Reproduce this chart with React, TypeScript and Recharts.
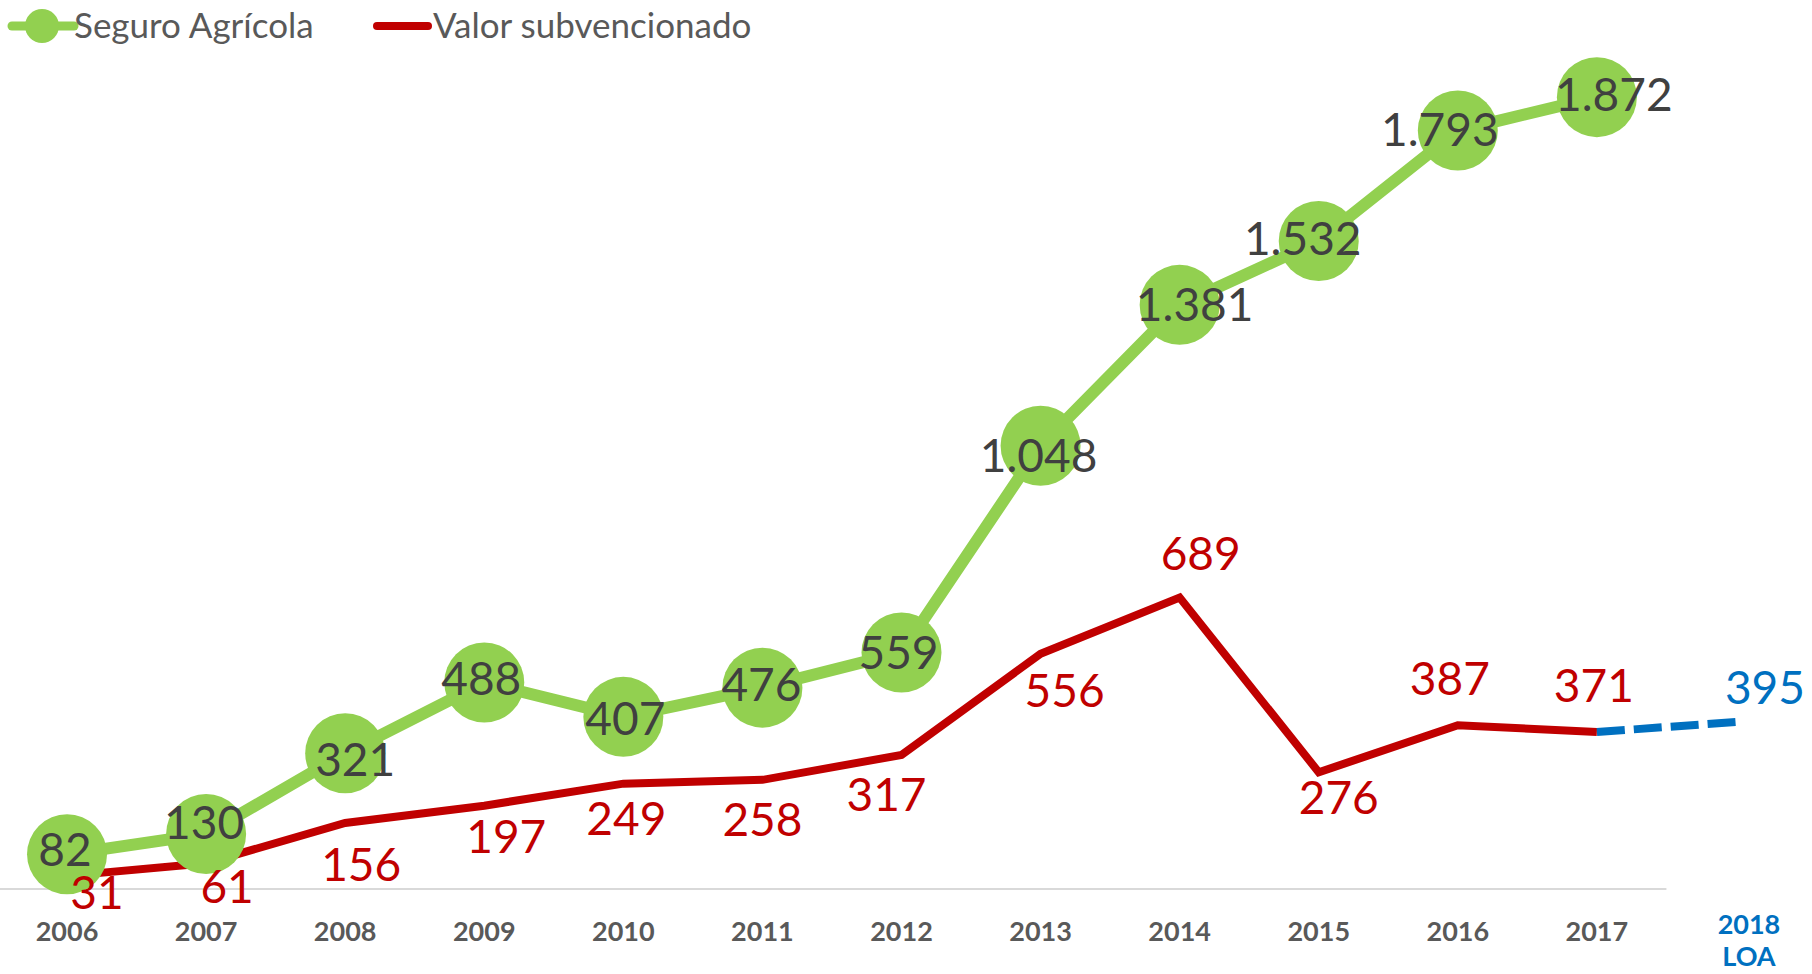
import { LineChart, Line, XAxis, YAxis, ReferenceLine } from 'recharts';

const years = ['2006', '2007', '2008', '2009', '2010', '2011', '2012', '2013', '2014', '2015', '2016', '2017', '2018'];
const seguro = [82, 130, 321, 488, 407, 476, 559, 1048, 1381, 1532, 1793, 1872, null];
const valor = [31, 61, 156, 197, 249, 258, 317, 556, 689, 276, 387, 371, null];
const loa = [null, null, null, null, null, null, null, null, null, null, null, 371, 395];

// label nudges (px)
const seguroOff = [[-2, -2], [-2, -9], [10, 9], [-3, -1], [2, 5], [-1, 0], [-3, 3], [-2, 13], [15, 3], [-16, 1], [-18, 2], [17, 0]];
const valorOff = [[30, 20], [21, 26], [16, 44], [22, 34], [3, 38], [0, 43], [-15, 43], [24, 40], [21, -41], [20, 28], [-8, -44], [-3, -44]];
const loaOff = [29, -31];

const GREEN = '#92D050';
const RED = '#C00000';
const BLUE = '#0070C0';
const FONT = 'Lato, "Open Sans", sans-serif';

const chartData = years.map((y, i) => ({
  idx: i,
  year: y,
  seguro: seguro[i],
  valor: valor[i],
  loa: loa[i],
}));

const fmt = (v: number) => new Intl.NumberFormat('de-DE').format(v);

const YearTick = (props: any) => {
  const { x, y, payload } = props;
  const label = years[payload.value];
  if (label === '2018') {
    return (
      <g>
        <text x={x + 13} y={y + 34} textAnchor="middle" dominantBaseline="central" fill={BLUE} fontSize={27} fontWeight={700} fontFamily={FONT}>2018</text>
        <text x={x + 13} y={y + 66} textAnchor="middle" dominantBaseline="central" fill={BLUE} fontSize={27} fontWeight={700} fontFamily={FONT}>LOA</text>
      </g>
    );
  }
  return (
    <text x={x} y={y + 41} textAnchor="middle" dominantBaseline="central" fill="#595959" fontSize={27} fontWeight={700} fontFamily={FONT}>
      {label}
    </text>
  );
};

const makeLabel = (offsets: number[][], color: string) => (props: any) => {
  const { x, y, value, index } = props;
  if (value === null || value === undefined) return null;
  const off = offsets[index] || [0, 0];
  return (
    <text x={x + off[0]} y={y + off[1] - 4} textAnchor="middle" dominantBaseline="central" fill={color} fontSize={46} fontFamily={FONT}>
      {fmt(value)}
    </text>
  );
};

const LoaLabel = (props: any) => {
  const { x, y, value, index } = props;
  if (index !== 12 || value == null) return null;
  return (
    <text x={x + loaOff[0]} y={y + loaOff[1] - 4} textAnchor="middle" dominantBaseline="central" fill={BLUE} fontSize={46} fontFamily={FONT}>
      {fmt(value)}
    </text>
  );
};

const ChartLegend = () => (
  <svg width={800} height={60} style={{ position: 'absolute', left: 0, top: 0 }}>
    <line x1={12} y1={26} x2={74} y2={26} stroke={GREEN} strokeWidth={9} strokeLinecap="round" />
    <circle cx={42} cy={26} r={17} fill={GREEN} />
    <text x={74} y={24} dominantBaseline="central" fill="#595959" fontSize={35} fontFamily={FONT}>Seguro Agrícola</text>
    <line x1={377} y1={26} x2={428} y2={26} stroke={RED} strokeWidth={8} strokeLinecap="round" />
    <text x={433} y={24} dominantBaseline="central" fill="#595959" fontSize={35} fontFamily={FONT}>Valor subvencionado</text>
  </svg>
);

const App = () => {
  return (
    <div style={{ position: 'absolute', left: 0, top: 0, width: 1812, height: 974, background: '#fff' }}>
      <LineChart width={1812} height={974} data={chartData} margin={{ top: 43, right: 4, left: 0, bottom: 0 }}>
        <XAxis
          type="number"
          dataKey="idx"
          domain={[-0.482, 12.518]}
          ticks={[0, 1, 2, 3, 4, 5, 6, 7, 8, 9, 10, 11, 12]}
          axisLine={false}
          tickLine={false}
          tickSize={0}
          tickMargin={0}
          height={85}
          tick={<YearTick />}
          interval={0}
        />
        <YAxis hide domain={[0, 2000]} />
        <ReferenceLine
          segment={[{ x: -0.482, y: 0 }, { x: 11.5, y: 0 }]}
          stroke="#D9D9D9"
          strokeWidth={2}
        />
        <Line type="linear" dataKey="valor" stroke={RED} strokeWidth={8} dot={false} activeDot={false} isAnimationActive={false} />
        <Line type="linear" dataKey="loa" stroke={BLUE} strokeWidth={8} strokeDasharray="28 9" dot={false} activeDot={false} isAnimationActive={false} connectNulls={false} />
        <Line
          type="linear"
          dataKey="seguro"
          stroke={GREEN}
          strokeWidth={12}
          dot={{ r: 40, fill: GREEN, stroke: 'none' }}
          activeDot={false}
          isAnimationActive={false}
          label={makeLabel(seguroOff, '#404040')}
        />
        <Line type="linear" dataKey="valor" stroke="none" dot={false} activeDot={false} isAnimationActive={false} label={makeLabel(valorOff, RED)} />
        <Line type="linear" dataKey="loa" stroke="none" dot={false} activeDot={false} isAnimationActive={false} label={<LoaLabel />} />
      </LineChart>
      <ChartLegend />
    </div>
  );
};

export default App;
